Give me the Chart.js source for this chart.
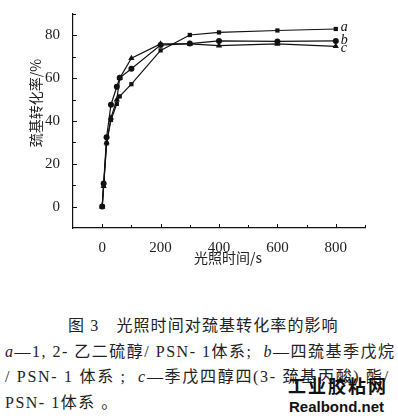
<!DOCTYPE html>
<html>
<head>
<meta charset="utf-8">
<script src="https://cdn.jsdelivr.net/npm/chart.js@4"></script>
<style>
  body { margin: 0; background: #fff; width: 398px; height: 420px; overflow: hidden; position: relative; }
  #wrap { position: absolute; left: 0; top: 0; width: 398px; height: 272px; }
  .cap { position: absolute; white-space: nowrap; color: #222; font-family: "Liberation Serif", "Noto Sans CJK SC", serif; font-size: 16px; letter-spacing: 1.5px; }
  .mark { position: absolute; font-family: "Liberation Sans", "Noto Sans CJK SC", sans-serif; font-weight: bold; color: #111; }
</style>
</head>
<body>
<div id="wrap"><canvas id="chart" width="398" height="272"></canvas></div>
<div class="cap" style="left:68px; top:312px; letter-spacing:1.1px;">图 3　光照时间对巯基转化率的影响</div>
<div class="cap" style="left:5px; top:338px;"><i>a</i>—1, 2- 乙二硫醇/ PSN- 1体系;&nbsp; <i>b</i>—四巯基季戊烷</div>
<div class="cap" style="left:5px; top:363px; letter-spacing:1.7px;">/ PSN- 1 体系 ;&nbsp; <i>c</i>—季戊四醇四(3- 巯基丙酸) 酯/</div>
<div class="cap" style="left:5px; top:389px;">PSN- 1体系 。</div>
<div class="mark" style="left:288px; top:372px; font-size:18px; letter-spacing:2px;">工业胶粘网</div>
<div class="mark" style="left:289px; top:398px; font-size:15px;">Realbond.net</div>
<script>
// 照射時間 (s)
const times = [0, 5, 15, 30, 50, 60, 100, 200, 300, 400, 600, 800];
// 各系の巯基転化率 (%)
const seriesA = [0, 10, 29.5, 40.5, 48, 51.5, 57.2, 73, 80.2, 81.4, 82.3, 83];
const seriesB = [0, 10.8, 32.4, 47.6, 56, 60.2, 64.4, 75.5, 76.2, 77.4, 77.2, 77.4];
const seriesC = [0, 9.5, 30, 41.5, 50, 60, 69.3, 76, 76, 75.2, 76, 74.9];
const seriesNames = ['a', 'b', 'c'];
const xTickLabels = [0, 200, 400, 600, 800];
const yTickLabels = [0, 20, 40, 60, 80];

const serif = '"Liberation Serif", "DejaVu Serif", serif';
const cjk = '"Noto Sans CJK SC", sans-serif';

function makeSet(label, values, style, radius) {
    return {
        label: label,
        data: times.map((t, i) => ({ x: t, y: values[i] })),
        borderColor: '#111',
        backgroundColor: '#111',
        borderWidth: 1.2,
        pointStyle: style,
        pointRadius: radius,
        pointBorderWidth: 0,
        tension: 0
    };
}

// 内向きの目盛り、軸タイトル、末尾のラベル a, b, c を描く
const decorPlugin = {
    id: 'decor',
    afterDraw(chart) {
        const ctx = chart.ctx;
        const xs = chart.scales.x, ys = chart.scales.y;
        const area = chart.chartArea;
        ctx.save();
        ctx.strokeStyle = '#111';
        ctx.lineWidth = 1;
        for (let v = 0; v <= 900; v += 100) {
            const px = Math.round(xs.getPixelForValue(v)) + 0.5;
            const len = v % 200 === 0 ? 4 : 3;
            ctx.beginPath();
            ctx.moveTo(px, area.bottom);
            ctx.lineTo(px, area.bottom - len);
            ctx.stroke();
        }
        for (let v = 0; v <= 90; v += 10) {
            const py = Math.round(ys.getPixelForValue(v)) + 0.5;
            const len = v % 20 === 0 ? 4 : 3;
            ctx.beginPath();
            ctx.moveTo(area.left, py);
            ctx.lineTo(area.left + len, py);
            ctx.stroke();
        }
        ctx.fillStyle = '#222';
        ctx.textAlign = 'center';
        ctx.textBaseline = 'middle';
        ctx.font = '14px ' + cjk;
        ctx.fillText('光照时间/s', 228, 258);
        ctx.save();
        ctx.translate(36, 103);
        ctx.rotate(-Math.PI / 2);
        ctx.font = '14px ' + cjk;
        ctx.fillText('巯基转化率/%', 0, 0);
        ctx.restore();

        ctx.fillStyle = '#111';
        ctx.textAlign = 'left';
        ctx.font = 'italic 14px ' + serif;
        const last = times.length - 1;
        const offsets = [-2, -1, 2];
        chart.data.datasets.forEach((ds, i) => {
            const p = ds.data[last];
            ctx.fillText(seriesNames[i], xs.getPixelForValue(p.x) + 5, ys.getPixelForValue(p.y) + offsets[i]);
        });
        ctx.restore();
    }
};

new Chart(document.getElementById('chart'), {
    type: 'line',
    data: {
        datasets: [
            makeSet('a', seriesA, 'rect', 3),
            makeSet('b', seriesB, 'circle', 3),
            makeSet('c', seriesC, 'triangle', 3.6)
        ]
    },
    options: {
        responsive: false,
        animation: false,
        layout: { padding: { top: 10, right: 33, left: 0, bottom: 0 } },
        plugins: { legend: { display: false }, tooltip: { enabled: false } },
        scales: {
            x: {
                type: 'linear',
                min: -100,
                max: 900,
                afterFit(scale) { scale.height = 44; },
                border: { display: true, color: '#111', width: 1.2 },
                grid: { display: false },
                ticks: {
                    stepSize: 100,
                    autoSkip: false,
                    maxRotation: 0,
                    padding: 3,
                    color: '#222',
                    font: { family: serif, size: 15 },
                    callback: v => xTickLabels.includes(v) ? String(v) : ''
                }
            },
            y: {
                type: 'linear',
                min: -10,
                max: 90,
                afterFit(scale) { scale.width = 73; },
                border: { display: true, color: '#111', width: 1.2 },
                grid: { display: false },
                ticks: {
                    stepSize: 10,
                    autoSkip: false,
                    padding: 5,
                    color: '#222',
                    font: { family: serif, size: 15 },
                    callback: v => yTickLabels.includes(v) ? String(v) : ''
                }
            }
        }
    },
    plugins: [decorPlugin]
});
</script>
</body>
</html>
